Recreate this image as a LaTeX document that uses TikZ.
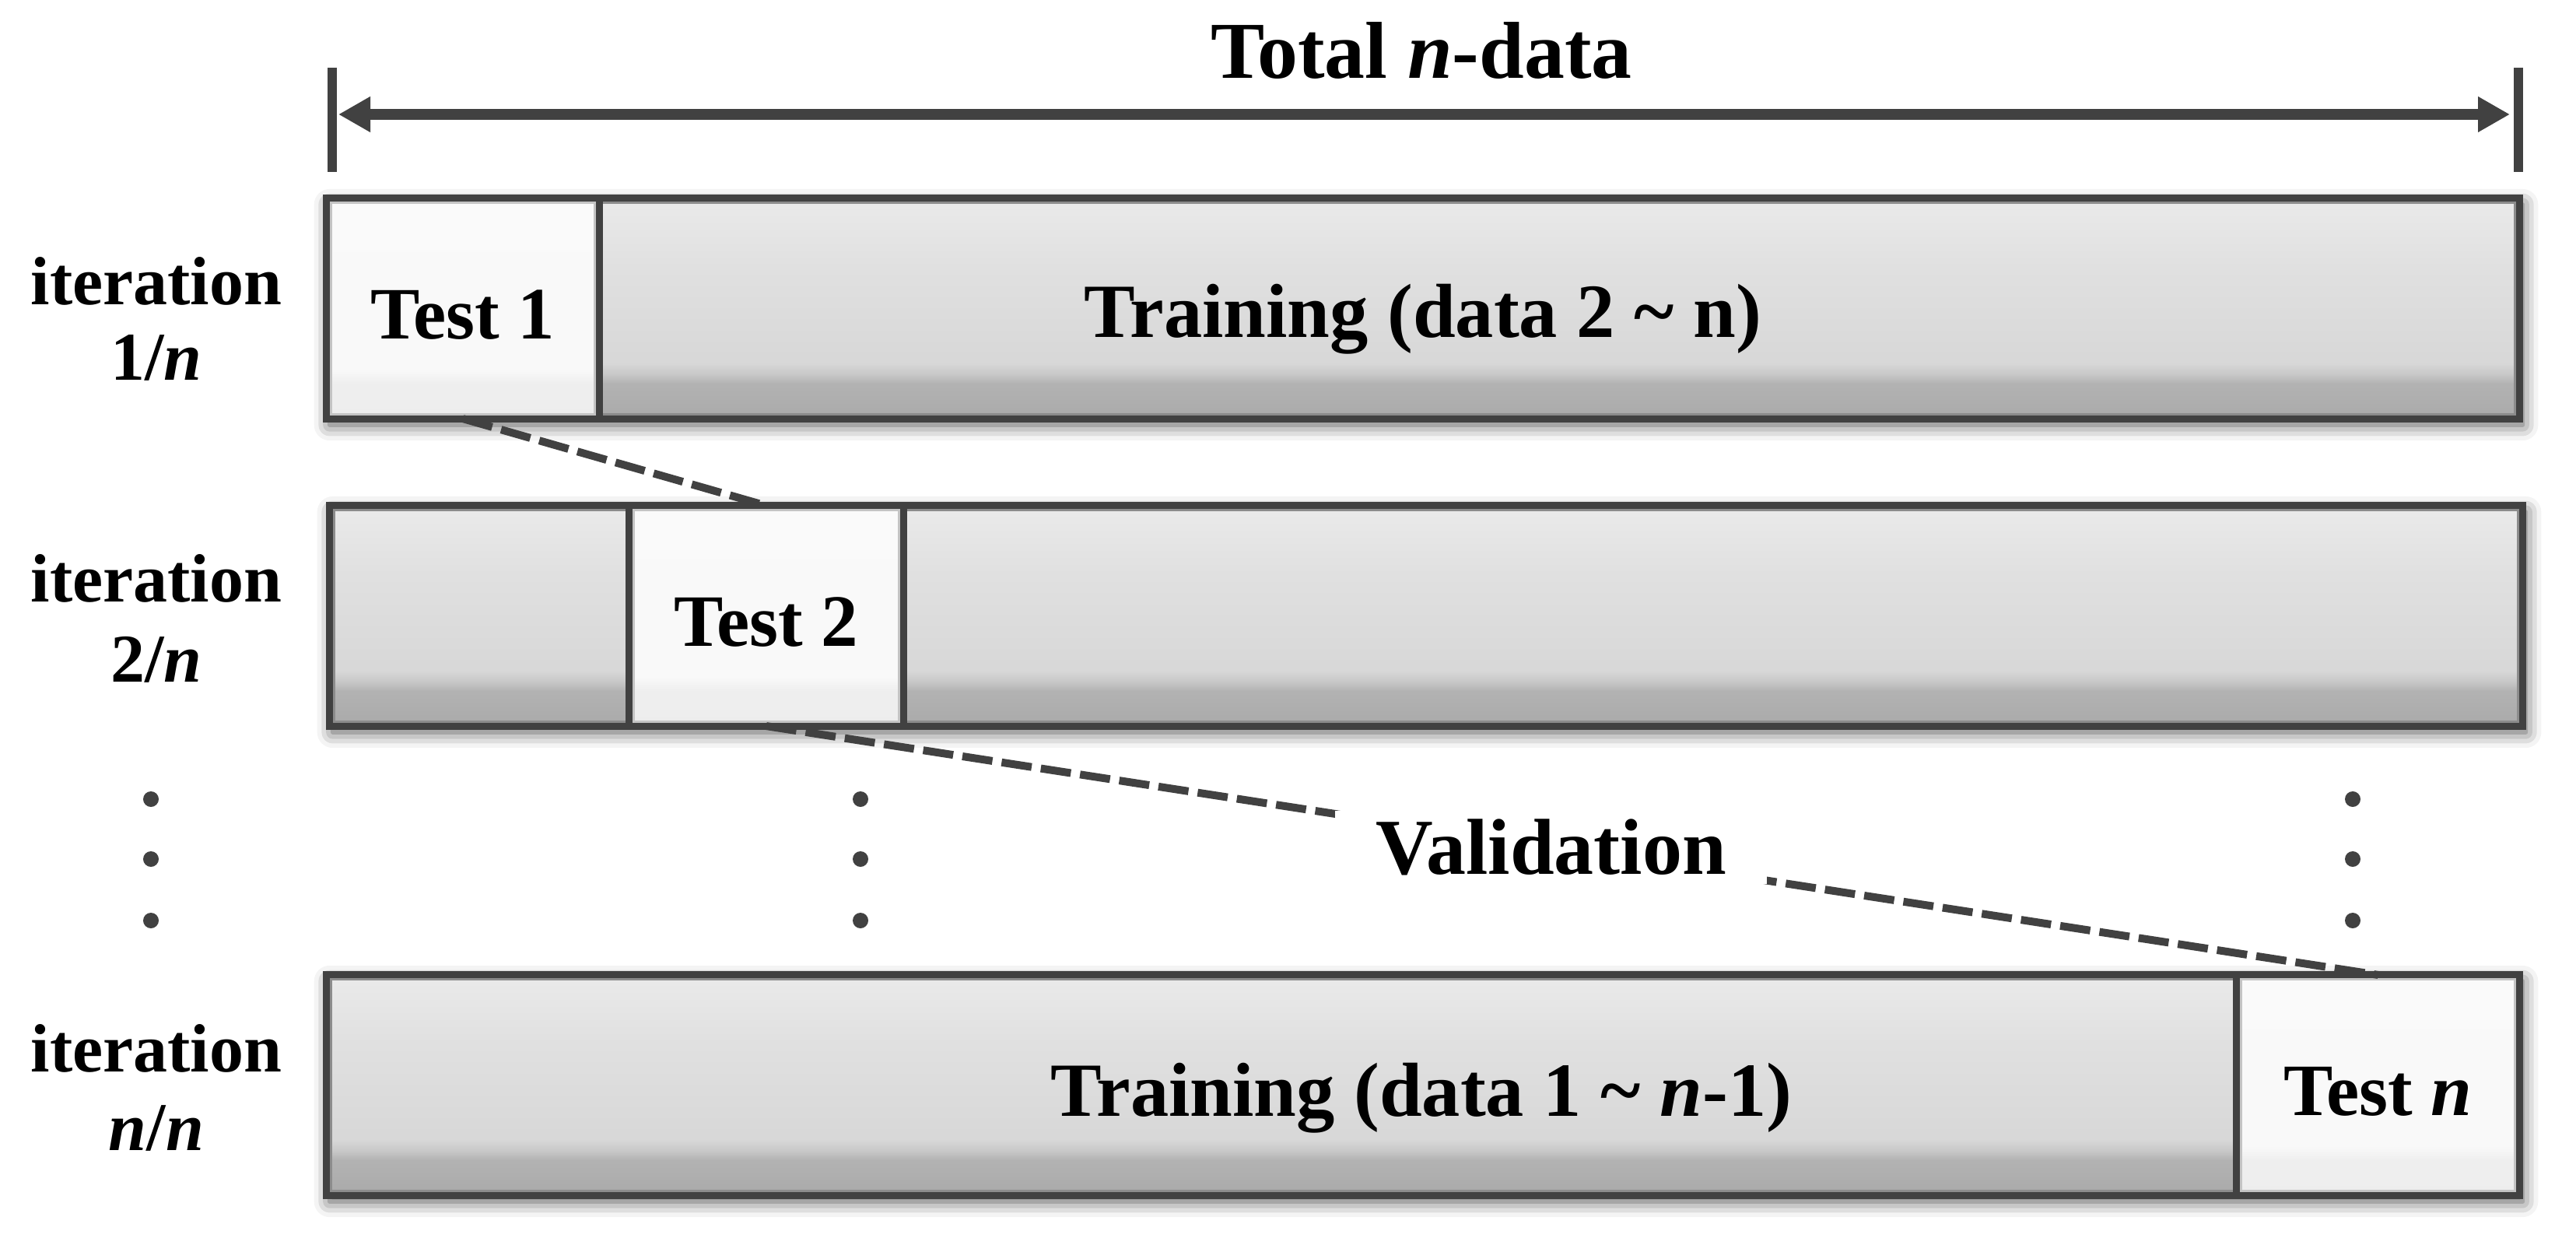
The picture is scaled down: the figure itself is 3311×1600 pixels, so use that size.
\documentclass[tikz,border=0pt]{standalone}
\usepackage{fontspec}
\setmainfont{Liberation Serif}
\usetikzlibrary{arrows.meta,shadows.blur,calc}
\definecolor{edge}{HTML}{414141}
\definecolor{barrim}{HTML}{8C8C8C}
\definecolor{testrim}{HTML}{C4C4C4}
\pgfdeclareverticalshading{barshade}{100bp}{rgb(0bp)=(.665,.665,.665); rgb(25bp)=(.665,.665,.665); rgb(33bp)=(.70,.70,.70); rgb(35bp)=(.78,.78,.78); rgb(37.5bp)=(.845,.845,.845); rgb(60bp)=(.88,.88,.88); rgb(75bp)=(.918,.918,.918); rgb(100bp)=(.918,.918,.918)}
\pgfdeclareverticalshading{testshade}{100bp}{rgb(0bp)=(.93,.93,.93); rgb(25bp)=(.93,.93,.93); rgb(33bp)=(.935,.935,.935); rgb(36bp)=(.975,.975,.975); rgb(75bp)=(.98,.98,.98); rgb(100bp)=(.98,.98,.98)}
\begin{document}
\begin{tikzpicture}[x=0.01cm,y=-0.01cm,
  bar/.style={draw=edge, line width=0.09cm, shading=barshade, rectangle, inner sep=0pt, outer sep=0pt, minimum height=2.83cm,
    blur shadow={shadow xshift=0.04cm, shadow yshift=-0.08cm, shadow blur radius=0.2cm, shadow opacity=70}},
  testbox/.style={draw=edge, line width=0.09cm, shading=testshade, rectangle, inner sep=0pt, outer sep=0pt, minimum height=2.83cm,
    text height=0.78cm, text depth=0cm, font=\fontsize{27}{30}\selectfont\bfseries},
  rim/.style={line width=0.03cm},
  lbl/.style={anchor=base, inner sep=0pt, font=\fontsize{25}{30}\selectfont\bfseries},
  big/.style={anchor=base, inner sep=0pt, font=\fontsize{28}{32}\selectfont\bfseries},
  dotc/.style={circle, fill=edge, inner sep=0pt, minimum size=0.2cm},
  conn/.style={draw=edge, line width=0.10cm, dash pattern=on 11.1pt off 3.4pt},
  dim/.style={draw=edge, line width=0.14cm}
]
\useasboundingbox (0,0) rectangle (3311,1600);

% dimension arrow
\coordinate (tl1) at (427,87);
\coordinate (tl2) at (427,221);
\coordinate (tr1) at (3237,87);
\coordinate (tr2) at (3237,221);
\coordinate (al) at (435,147);
\coordinate (ar) at (3226,147);
\draw[edge, line width=0.125cm] (tl1) -- (tl2);
\draw[edge, line width=0.125cm] (tr1) -- (tr2);
\draw[dim, {Triangle[length=0.41cm,width=0.43cm]}-{Triangle[length=0.41cm,width=0.43cm]}] (al) -- (ar);
\node[anchor=base, inner sep=0pt, font=\fontsize{29.5}{33}\selectfont\bfseries] (title) at (1827,101) {Total \textit{n}-data};

% bars
\node[bar, minimum width=28.17cm] (bar1) at (1829,396.5) {};
\node[bar, minimum width=28.17cm] (bar2) at (1833,791.5) {};
\node[bar, minimum width=28.17cm] (bar3) at (1829,1394.5) {};
\foreach \b in {bar1,bar2,bar3}{
  \draw[rim, barrim] ($(\b.north west)+(6,6)$) rectangle ($(\b.south east)+(-6,-6)$);
}

% test boxes
\node[testbox, anchor=west, minimum width=3.505cm] (t1) at (bar1.west) {Test 1};
\node[testbox, minimum width=3.52cm] (t2) at (985,791.5) {Test 2};
\node[testbox, anchor=east, minimum width=3.635cm] (tn) at (bar3.east) {Test \textit{n}};
\foreach \b in {t1,t2,tn}{
  \draw[rim, testrim] ($(\b.north west)+(6,6)$) rectangle ($(\b.south east)+(-6,-6)$);
}

% training labels
\node[big] (tr1) at (1829,433) {Training (data 2 \textasciitilde{} n)};
\node[big] (tr3) at (1827,1434) {Training (data 1 \textasciitilde{} \textit{n}-1)};

% iteration labels
\node[lbl] (i1a) at (201,391) {iteration};
\node[lbl] (i1b) at (201,488) {1/\textit{n}};
\node[lbl] (i2a) at (201,773) {iteration};
\node[lbl] (i2b) at (201,876) {2/\textit{n}};
\node[lbl] (i3a) at (201,1377) {iteration};
\node[lbl] (i3b) at (201,1478) {\textit{n}/\textit{n}};

% vertical dots
\foreach \x/\n in {194/a,1106/b,3024/c}{
  \node[dotc] (d\n1) at (\x,1027) {};
  \node[dotc] (d\n2) at (\x,1104) {};
  \node[dotc] (d\n3) at (\x,1183) {};
}

% validation connectors
\draw[conn] (t1.south) -- (t2.north);
\draw[conn] (t2.south) -- node[pos=0.487, fill=white, inner xsep=15pt, inner ysep=3pt, font=\fontsize{29}{32}\selectfont\bfseries] (val) {Validation} (tn.north);
\end{tikzpicture}
\end{document}
